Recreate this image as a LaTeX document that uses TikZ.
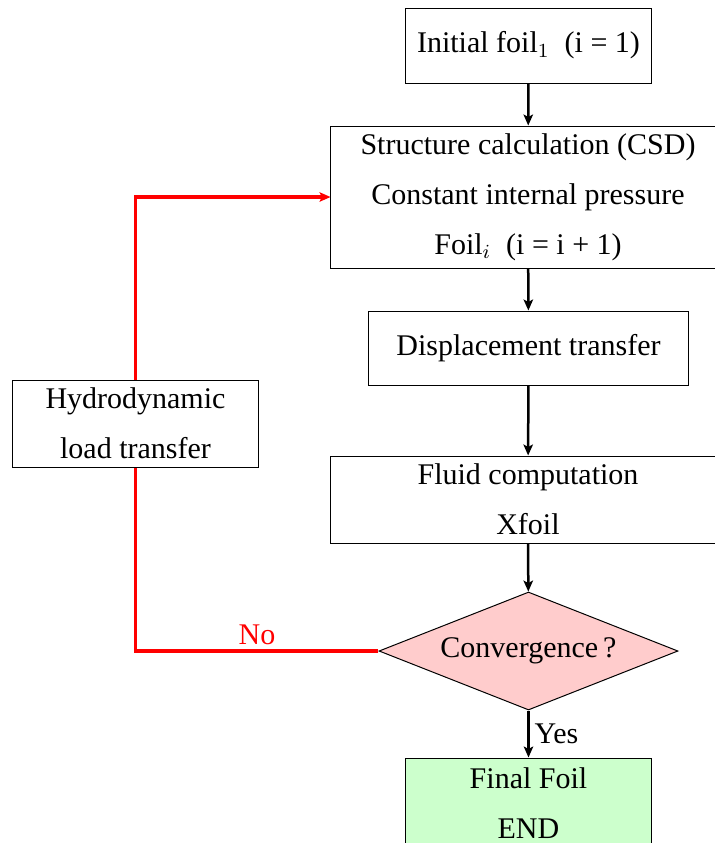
\documentclass[tikz,border=0pt]{standalone}
\usepackage{fontspec}
\setmainfont{Liberation Serif}
\usetikzlibrary{shapes.geometric,arrows.meta}
\begin{document}
\begin{tikzpicture}[x=0.4pt,y=-0.4pt,
  box/.style={draw=black, line width=0.4pt, inner sep=0pt, align=center,
    font=\fontsize{12}{20}\selectfont},
  flow/.style={draw=black, line width=1pt, -{Stealth[length=4.4pt,width=3.8pt,inset=1pt]}},
  loop/.style={draw=red, line width=1.25pt},
  loopar/.style={loop, -{Stealth[length=4.4pt,width=3.8pt,inset=1pt]}}]
\useasboundingbox (0,0) rectangle (715,843);
\clip (0,0) rectangle (715,843);
\node[box, minimum width=98pt, minimum height=30pt] (init) at (528.5,45.5)
  {Initial foil$_1$\ \ (i = 1)};
\node[box, minimum width=157.6pt, minimum height=56.8pt] (csd) at (528,197)
  {Structure calculation (CSD)\\Constant internal pressure\\Foil$_i$\ \ (i = i + 1)};
\node[box, minimum width=127.6pt, minimum height=29.6pt] (disp) at (528.5,348)
  {Displacement transfer};
\node[box, minimum width=157.6pt, minimum height=34.8pt] (fluid) at (528,499.5)
  {Fluid computation\\Xfoil};
\node[diamond, draw=black, line width=0.4pt, fill=red!20, aspect=2.5, inner sep=0pt,
  minimum width=119.6pt, minimum height=47.2pt, font=\fontsize{12}{20}\selectfont]
  (conv) at (528.5,651) {Convergence\,?};
\node[box, fill=green!20, minimum width=98pt, minimum height=36pt] (final) at (528.5,803)
  {Final Foil\\END};
\node[box, minimum width=98pt, minimum height=34.8pt] (hydro) at (135.5,423.5)
  {Hydrodynamic\\load transfer};
\draw[flow] (init) -- (csd);
\draw[flow] (csd) -- (disp);
\draw[flow] (disp) -- (fluid);
\draw[flow] (fluid) -- (conv);
\draw[flow] (conv) -- node[right, font=\fontsize{12}{12}\selectfont, inner sep=2pt] {Yes} (final);
\draw[loop] (conv.west) -| node[pos=0.25, above, text=red, font=\fontsize{12}{12}\selectfont, inner sep=2pt] {No} (hydro.south);
\draw[loopar] (hydro.north) |- (csd.west);
\end{tikzpicture}
\end{document}
